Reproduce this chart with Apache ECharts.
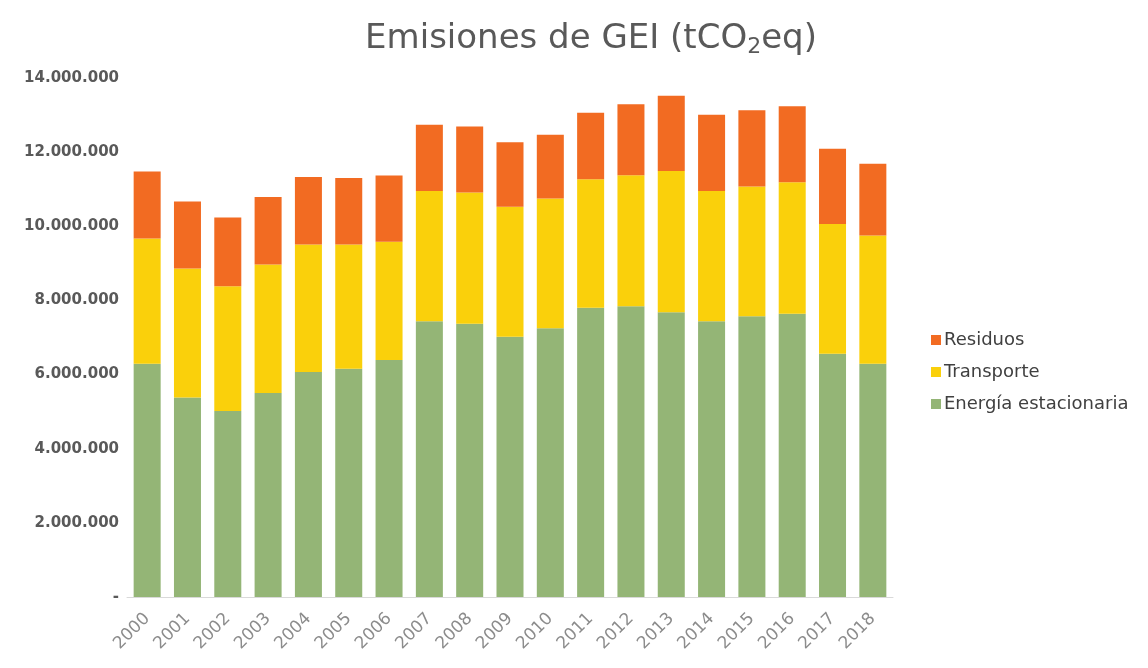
<!DOCTYPE html>
<html lang="es">
<head>
<meta charset="UTF-8">
<title>Emisiones de GEI</title>
<script src="https://cdn.jsdelivr.net/npm/echarts@6/dist/echarts.min.js"></script>
<style>
  html, body { margin: 0; padding: 0; background: #fff; }
  #main { width: 1148px; height: 668px; }
</style>
</head>
<body>
<div id="main"></div>
<script type="text/javascript">
// años
var years = ['2000','2001','2002','2003','2004','2005','2006','2007','2008','2009',
             '2010','2011','2012','2013','2014','2015','2016','2017','2018'];
// tCO2eq
var energia = [6290000,5380000,5020000,5500000,6070000,6160000,6390000,7440000,7370000,7020000,
               7250000,7800000,7840000,7680000,7440000,7570000,7640000,6560000,6290000];
var transporte = [3380000,3480000,3360000,3470000,3440000,3350000,3190000,3510000,3540000,3510000,
                  3500000,3470000,3540000,3810000,3510000,3500000,3550000,3500000,3460000];
var residuos = [1810000,1810000,1860000,1820000,1820000,1790000,1790000,1790000,1780000,1740000,
                1720000,1790000,1910000,2030000,2060000,2060000,2050000,2030000,1940000];
var yTicks = [0,2000000,4000000,6000000,8000000,10000000,12000000,14000000];

var wide = 'DejaVu Sans';

function fmt(v) {
    if (v === 0) return '-';
    return String(v).replace(/\B(?=(\d{3})+(?!\d))/g, '.');
}

var myChart = echarts.init(document.getElementById('main'));
myChart.setOption({
    animation: false,
    title: {
        text: 'Emisiones de GEI (tCO{sub|2}eq)',
        left: 586,
        textAlign: 'center',
        top: 16,
        textStyle: {
            fontFamily: wide,
            fontSize: 34,
            fontWeight: 'normal',
            color: '#595959',
            rich: {
                sub: { fontFamily: wide, fontSize: 22, color: '#595959', verticalAlign: 'bottom', padding: [15,0,0,0] }
            }
        }
    },
    legend: {
        orient: 'vertical',
        left: 926,
        top: 326,
        itemWidth: 10,
        itemHeight: 10,
        itemGap: 14,
        icon: 'rect',
        data: ['Residuos','Transporte','Energía estacionaria'],
        textStyle: { fontFamily: wide, fontSize: 18, color: '#404040', padding: [0,0,0,-2] }
    },
    grid: { left: 127, right: 255, top: 78, bottom: 71 },
    xAxis: {
        type: 'category',
        data: years,
        axisTick: { show: false },
        axisLine: { lineStyle: { color: '#d9d9d9', width: 1 } },
        axisLabel: {
            rotate: 45,
            margin: 19,
            fontFamily: wide,
            fontSize: 17,
            color: '#8c8c8c'
        }
    },
    yAxis: {
        type: 'value',
        min: yTicks[0],
        max: yTicks[yTicks.length - 1],
        interval: 2000000,
        splitLine: { show: false },
        axisLine: { show: false },
        axisTick: { show: false },
        axisLabel: {
            formatter: fmt,
            margin: 8,
            fontFamily: wide,
            fontWeight: 'bold',
            fontSize: 15,
            color: '#595959'
        }
    },
    series: [
        { name: 'Energía estacionaria', type: 'bar', stack: 'total', data: energia,
          barCategoryGap: '33%', itemStyle: { color: '#94b576' } },
        { name: 'Transporte', type: 'bar', stack: 'total', data: transporte,
          itemStyle: { color: '#fad00b' } },
        { name: 'Residuos', type: 'bar', stack: 'total', data: residuos,
          itemStyle: { color: '#f26b22' } }
    ]
});
</script>
</body>
</html>
